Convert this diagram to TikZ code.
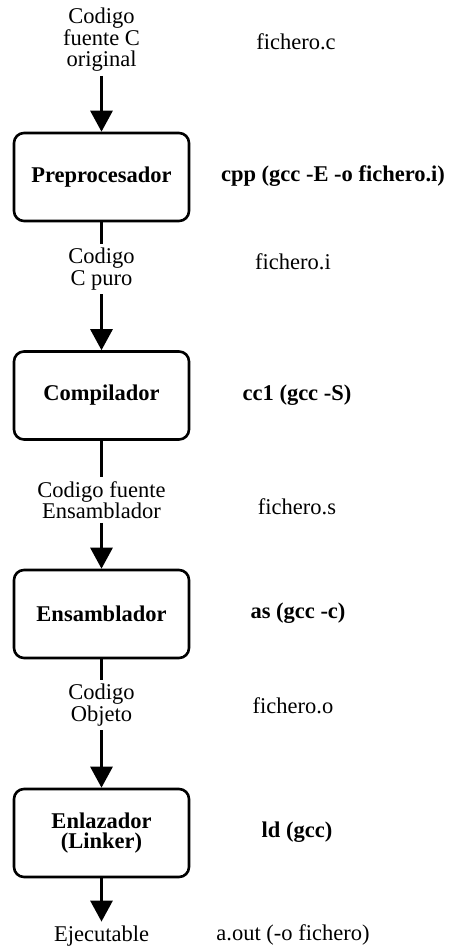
\documentclass[tikz,border=0pt]{standalone}
\usepackage{fontspec}
\setmainfont{Liberation Serif}
\usetikzlibrary{arrows.meta}
\begin{document}
\begin{tikzpicture}[x=1pt,y=-1pt,
  font=\fontsize{22.5}{21.5}\selectfont,
  stage/.style={draw,line width=2.6pt,rounded corners=10pt,minimum width=175pt,minimum height=88pt,font=\fontsize{22.5}{20.5}\selectfont\bfseries,align=center},
  lbl/.style={align=center,inner sep=4pt},
  side/.style={inner sep=0pt},
  sideb/.style={inner sep=0pt,font=\fontsize{22.5}{21.5}\selectfont\bfseries},
  flow/.style={line width=3pt,-{Triangle[length=21pt,width=22pt]}},
  link/.style={line width=3pt}]
\useasboundingbox (0,0) rectangle (455,949);
\fill[white] (0,0) rectangle (455,949);
% stages
\node[stage] (pre) at (101.5,177) {Preprocesador};
\node[stage] (comp) at (101.5,395.5) {Compilador};
\node[stage] (ens) at (101.5,614) {Ensamblador};
\node[stage] (enl) at (101.5,833) {Enlazador\\(Linker)};
% labels
\node[lbl] (src) at (101.5,40) {Codigo\\fuente C\\original};
\node[lbl] (puro) at (101.5,269) {Codigo\\C puro};
\node[lbl] (asm) at (101.5,500) {Codigo fuente\\Ensamblador};
\node[lbl] (obj) at (101.5,705) {Codigo\\Objeto};
\node[lbl] (exe) at (101.5,936) {Ejecutable};
% side annotations
\node[side] at (296,42) {fichero.c};
\node[sideb] at (333,176) {cpp (gcc -E -o fichero.i)};
\node[side] at (293,262) {fichero.i};
\node[sideb] at (297,395) {cc1 (gcc -S)};
\node[side] at (297,507) {fichero.s};
\node[sideb] at (298,613) {as (gcc -c)};
\node[side] at (293,706) {fichero.o};
\node[sideb] at (297,832) {ld (gcc)};
\node[side] at (293,935) {a.out (-o fichero)};
% connectors
\draw[flow] (src) -- (pre);
\draw[link] (pre) -- (puro);
\draw[flow] (puro) -- (comp);
\draw[link] (comp) -- (asm);
\draw[flow] (asm) -- (ens);
\draw[link] (ens) -- (obj);
\draw[flow] (obj) -- (enl);
\draw[flow] (enl) -- (exe);
\end{tikzpicture}
\end{document}
